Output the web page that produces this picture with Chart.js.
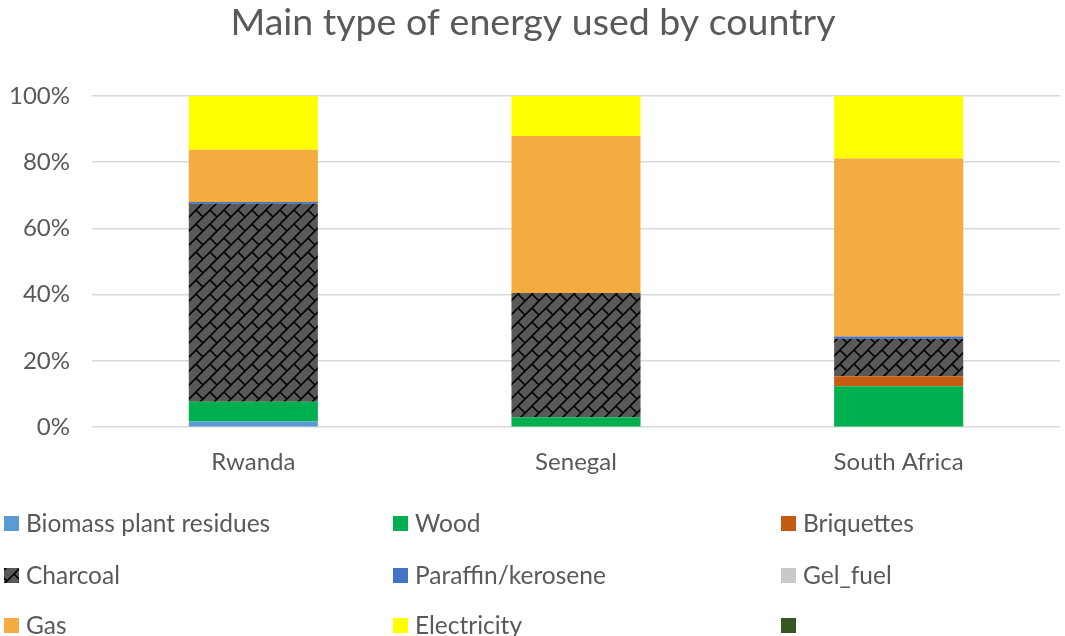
<!DOCTYPE html>
<html>
<head>
<meta charset="utf-8">
<script src="https://cdn.jsdelivr.net/npm/chart.js@4"></script>
<style>
  html, body { margin: 0; padding: 0; background: #fff; overflow: hidden; }
  #wrap { width: 1065px; height: 636px; }
</style>
</head>
<body>
<div id="wrap"><canvas id="myChart" width="1065" height="636"></canvas></div>
<script>
// categories
const paises = ['Rwanda', 'Senegal', 'South Africa'];

// series (percent of households)
const biomasa = [1.7, 0, 0];
const lena = [6.0, 3.0, 12.4];
const briquetas = [0, 0, 3.0];
const carbon = [59.8, 37.5, 11.3];
const parafina = [0.5, 0, 0.7];
const gelFuel = [0, 0, 0];
const gas = [15.8, 47.4, 53.7];
const electricidad = [16.2, 12.1, 18.9];
const sinNombre = [0, 0, 0];

// y axis ticks
const ticksY = [0, 20, 40, 60, 80, 100];

const gris = '#595959';
const fuente = 'Lato, "Open Sans", sans-serif';

// pattern for charcoal: dark grey with staggered diagonal "bricks"
function patronCarbon() {
  const t = 28;
  const c = document.createElement('canvas');
  c.width = t; c.height = t;
  const g = c.getContext('2d');
  g.fillStyle = '#595959';
  g.fillRect(0, 0, t, t);
  g.strokeStyle = '#000';
  g.lineWidth = 1.6;
  const segs = [
    [0, 14, 14, 0], [0, 28, 28, 0], [14, 28, 28, 14],
    [0, 0, 7, 7], [14, 14, 21, 21], [14, 0, 21, 7], [0, 14, 7, 21]
  ];
  g.beginPath();
  for (const dx of [-t, 0, t]) {
    for (const dy of [-t, 0, t]) {
      segs.forEach(s => {
        g.moveTo(s[0] + dx, s[1] + dy);
        g.lineTo(s[2] + dx, s[3] + dy);
      });
    }
  }
  g.stroke();
  return g.createPattern(c, 'repeat');
}
const carbonFill = patronCarbon();

const series = [
  {label: 'Biomass plant residues', data: biomasa, color: '#5B9BD5'},
  {label: 'Wood', data: lena, color: '#00B050'},
  {label: 'Briquettes', data: briquetas, color: '#C55A11'},
  {label: 'Charcoal', data: carbon, color: carbonFill},
  {label: 'Paraffin/kerosene', data: parafina, color: '#4472C4'},
  {label: 'Gel_fuel', data: gelFuel, color: '#C9C9C9'},
  {label: 'Gas', data: gas, color: '#F4AC40'},
  {label: 'Electricity', data: electricidad, color: '#FFFF00'},
  {label: '', data: sinNombre, color: '#375623'}
];

// legend in three fixed columns, like the original
const leyendaColumnas = {
  id: 'leyendaColumnas',
  afterDraw(chart) {
    const ctx = chart.ctx;
    const colX = [4, 393, 781];
    const filaY = [523, 575, 625];
    ctx.save();
    ctx.font = '24.5px ' + fuente;
    ctx.textBaseline = 'middle';
    chart.data.datasets.forEach((ds, i) => {
      const x = colX[i % 3];
      const y = filaY[Math.floor(i / 3)];
      ctx.fillStyle = ds.backgroundColor;
      ctx.fillRect(x, y - 7, 15, 15);
      ctx.fillStyle = gris;
      ctx.fillText(ds.label, x + 22, y + 1);
    });
    ctx.restore();
  }
};

const ctx = document.getElementById('myChart').getContext('2d');
new Chart(ctx, {
  type: 'bar',
  data: {
    labels: paises,
    datasets: series.map(s => ({
      label: s.label,
      data: s.data,
      backgroundColor: s.color,
      borderWidth: 0,
      barPercentage: 0.4,
      categoryPercentage: 1
    }))
  },
  options: {
    responsive: false,
    animation: false,
    layout: {padding: {left: 6, right: 5, top: 0, bottom: 146}},
    plugins: {
      legend: {display: false},
      tooltip: {enabled: false},
      title: {
        display: true,
        text: 'Main type of energy used by country',
        color: gris,
        font: {family: fuente, size: 37.5, weight: 'normal'},
        padding: {top: 0, bottom: 51}
      }
    },
    scales: {
      x: {
        stacked: true,
        grid: {display: false},
        border: {display: false},
        ticks: {color: gris, font: {family: fuente, size: 24}, padding: 13}
      },
      y: {
        stacked: true,
        min: 0,
        max: 100,
        afterBuildTicks: axis => { axis.ticks = ticksY.map(v => ({value: v})); },
        afterFit: axis => { axis.width = 86; },
        grid: {color: '#D9D9D9', lineWidth: 1.5, drawTicks: false},
        border: {display: false},
        ticks: {color: gris, font: {family: fuente, size: 24}, padding: 22,
          callback: v => v + '%'}
      }
    }
  },
  plugins: [leyendaColumnas]
});
</script>
</body>
</html>
